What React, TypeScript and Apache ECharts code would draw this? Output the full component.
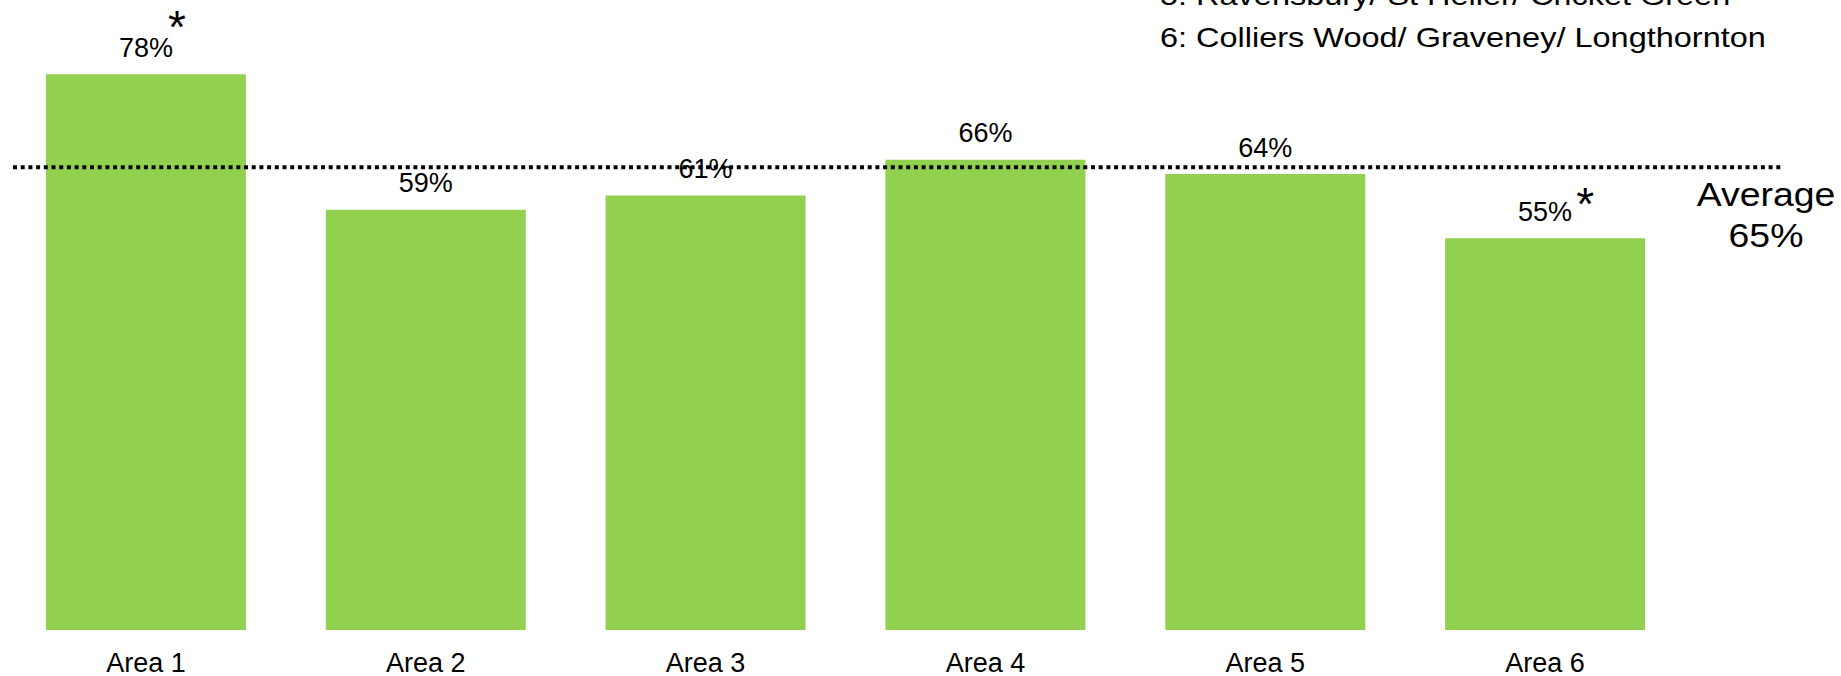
import React, { useEffect, useRef } from "react";
import * as echarts from "echarts";

const categories = ["Area 1", "Area 2", "Area 3", "Area 4", "Area 5", "Area 6"];
const values = [78, 59, 61, 66, 64, 55];
const averageValue = 65;
const flaggedAreas = ["Area 1", "Area 6"];
const noteLines = [
  "5: Ravensbury/ St Helier/ Cricket Green",
  "6: Colliers Wood/ Graveney/ Longthornton",
];

const FONT = "'Liberation Sans', Arial, Helvetica, sans-serif";

export default function App() {
  const ref = useRef<HTMLDivElement>(null);

  useEffect(() => {
    document.body.style.margin = "0";
    if (!ref.current) return;
    const chart = echarts.init(ref.current, undefined, { renderer: "svg" });

    const starOffsets: Record<string, [number, number]> = {
      "Area 1": [31, -47],
      "Area 6": [40, -34],
    };

    const option: any = {
      animation: false,
      backgroundColor: "#ffffff",
      grid: [
        { left: 6, right: 156, top: 60, bottom: 44 },
        { left: 13, right: 59, top: 60, bottom: 44 },
      ],
      xAxis: [
        {
          type: "category",
          gridIndex: 0,
          data: categories,
          axisLine: { show: false },
          axisTick: { show: false },
          axisLabel: { fontSize: 27, color: "#000", fontFamily: FONT, margin: 19 },
        },
        { type: "value", gridIndex: 1, min: 0, max: 1, show: false },
      ],
      yAxis: [
        { type: "value", gridIndex: 0, min: 0, max: 80, show: false, splitLine: { show: false } },
        { type: "value", gridIndex: 1, min: 0, max: 80, show: false, splitLine: { show: false } },
      ],
      series: [
        {
          type: "bar",
          xAxisIndex: 0,
          yAxisIndex: 0,
          data: values,
          barWidth: 200,
          itemStyle: { color: "#92D050" },
          z: 2,
          label: {
            show: true,
            position: "top",
            distance: 13,
            formatter: "{c}%",
            fontSize: 27,
            color: "#000",
            fontFamily: FONT,
          },
          markPoint: {
            symbol: "circle",
            symbolSize: 0,
            silent: true,
            label: {
              show: true,
              position: "inside",
              formatter: "*",
              fontSize: 46,
              color: "#000",
              fontFamily: FONT,
            },
            data: flaggedAreas.map((a) => ({
              coord: [a, values[categories.indexOf(a)]],
              label: { offset: starOffsets[a] },
            })),
          },
        },
        {
          type: "line",
          xAxisIndex: 1,
          yAxisIndex: 1,
          data: [
            [0, averageValue],
            [1, averageValue],
          ],
          symbol: "none",
          silent: true,
          z: 5,
          lineStyle: { color: "#000", width: 4, type: [4, 3.7], cap: "butt" },
        },
      ],
      graphic: [
        ...noteLines.map((t, i) => ({
          type: "text",
          x: 1160,
          y: -5 + i * 42.5,
          scaleX: 1.16,
          style: {
            text: t,
            fontSize: 28,
            fontFamily: FONT,
            fill: "#000",
            textAlign: "left",
            verticalAlign: "middle",
          },
        })),
        {
          type: "text",
          x: 1766,
          y: 215,
          scaleX: 1.1,
          style: {
            text: `Average\n${averageValue}%`,
            fontSize: 34,
            lineHeight: 41,
            fontFamily: FONT,
            fill: "#000",
            textAlign: "center",
            verticalAlign: "middle",
          },
        },
      ],
    };

    chart.setOption(option);
    return () => chart.dispose();
  }, []);

  return <div ref={ref} style={{ width: 1841, height: 676 }} />;
}
